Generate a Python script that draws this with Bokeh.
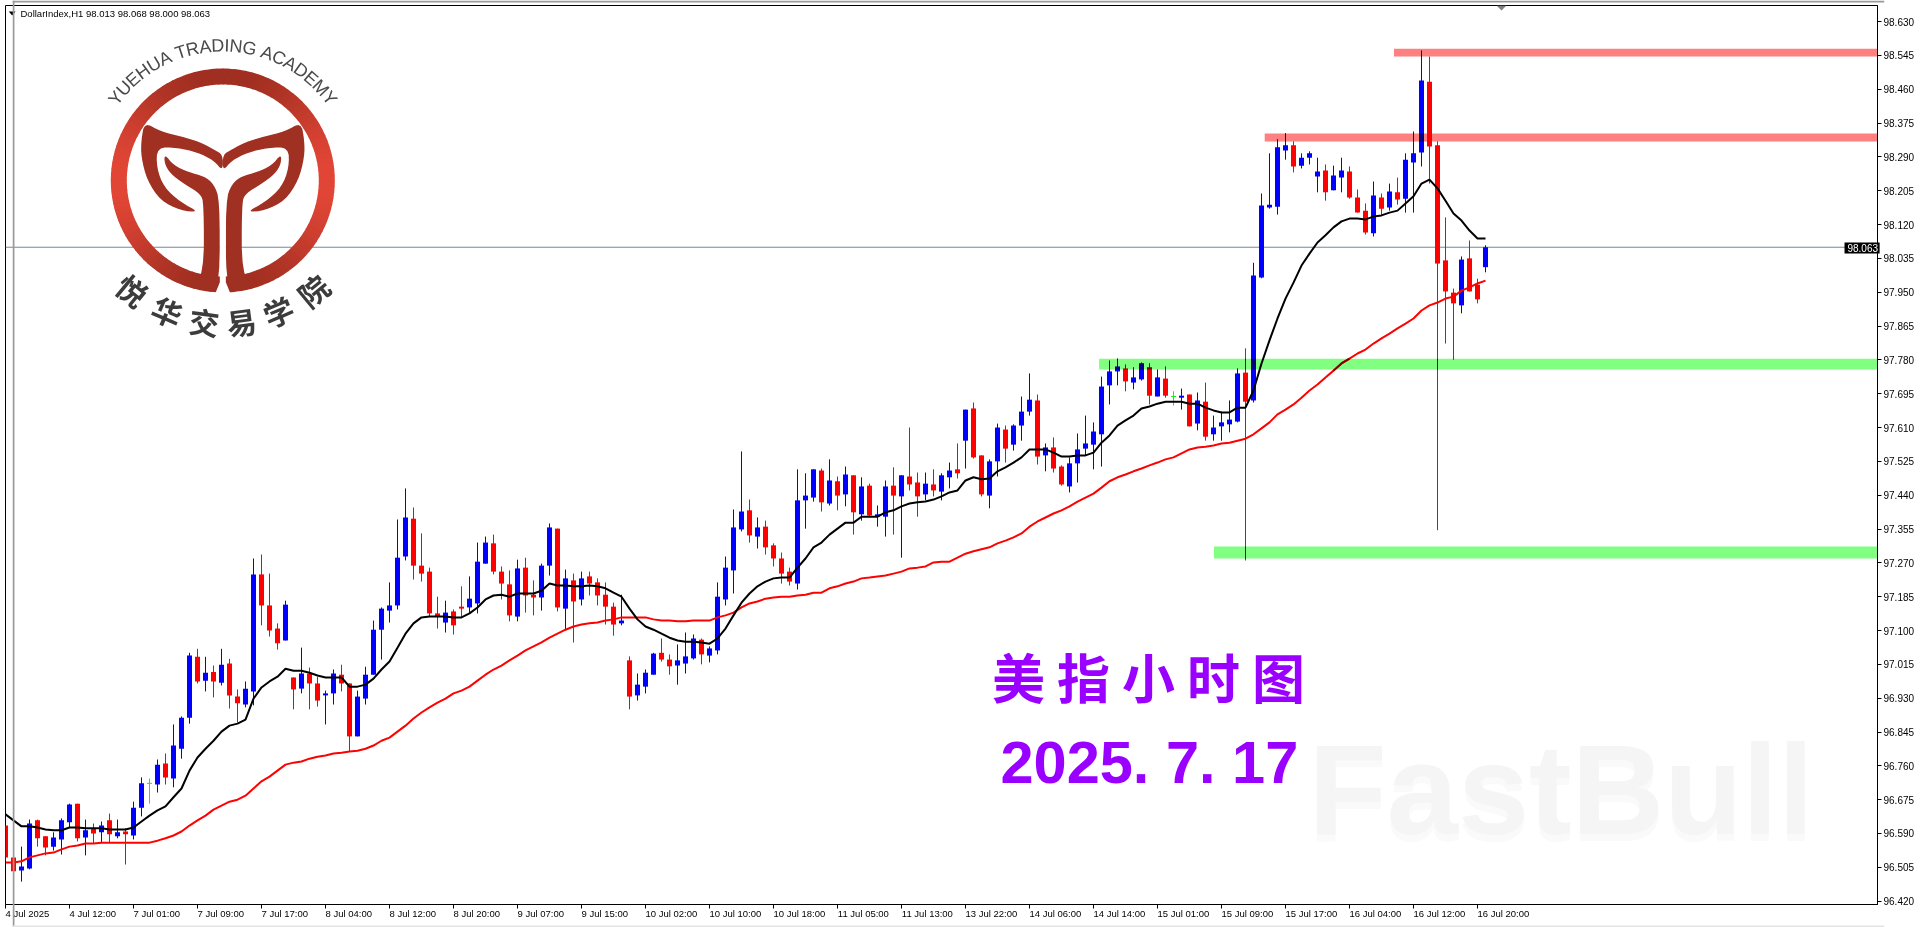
import numpy as np
from bokeh.core.properties import value
from bokeh.embed import file_html
from bokeh.layouts import column
from bokeh.models import FixedTicker, LinearAxis, NumeralTickFormatter, Range1d, Span
from bokeh.plotting import figure
from bokeh.resources import INLINE

#### data ####

opens = [96.610, 96.530, 96.497, 96.502, 96.623, 96.583, 96.557, 96.575, 96.618, 96.665,
         96.580, 96.603, 96.593, 96.623, 96.583, 96.595, 96.585, 96.655, 96.716, 96.713,
         96.766, 96.728, 96.803, 96.881, 97.034, 96.974, 96.996, 96.969, 97.017, 96.934,
         96.914, 96.947, 97.241, 97.163, 97.105, 97.075, 96.982, 96.954, 96.992, 96.967,
         96.937, 96.942, 96.989, 96.967, 96.834, 96.929, 96.989, 97.102, 97.150, 97.163,
         97.286, 97.381, 97.263, 97.248, 97.143, 97.120, 97.148, 97.160, 97.158, 97.168,
         97.268, 97.319, 97.248, 97.216, 97.135, 97.258, 97.190, 97.183, 97.263, 97.356,
         97.155, 97.226, 97.178, 97.236, 97.221, 97.190, 97.160, 97.118, 97.025, 96.937,
         96.959, 96.989, 97.044, 97.027, 97.012, 97.017, 97.030, 97.077, 97.037, 97.050,
         97.178, 97.251, 97.354, 97.402, 97.336, 97.361, 97.314, 97.281, 97.248, 97.218,
         97.427, 97.434, 97.502, 97.419, 97.475, 97.442, 97.490, 97.392, 97.464, 97.386,
         97.386, 97.464, 97.437, 97.487, 97.472, 97.442, 97.467, 97.449, 97.485, 97.505,
         97.577, 97.658, 97.540, 97.439, 97.525, 97.605, 97.567, 97.615, 97.650, 97.678,
         97.540, 97.560, 97.512, 97.462, 97.520, 97.557, 97.567, 97.593, 97.716, 97.751,
         97.758, 97.723, 97.731, 97.761, 97.688, 97.733, 97.688, 97.685, 97.693, 97.620,
         97.675, 97.593, 97.613, 97.618, 97.625, 97.748, 97.678, 97.987, 98.163, 98.165,
         98.306, 98.319, 98.268, 98.288, 98.241, 98.256, 98.206, 98.238, 98.253, 98.188,
         98.155, 98.098, 98.188, 98.163, 98.201, 98.185, 98.276, 98.301, 98.479, 98.319,
         98.030, 97.949, 97.917, 98.035, 97.969, 98.013]

closes = [96.530, 96.495, 96.507, 96.615, 96.578, 96.555, 96.580, 96.623, 96.663, 96.578,
          96.598, 96.590, 96.610, 96.588, 96.593, 96.588, 96.655, 96.716, 96.716, 96.763,
          96.731, 96.811, 96.881, 97.037, 96.972, 96.994, 96.972, 97.014, 96.937, 96.917,
          96.954, 97.241, 97.163, 97.100, 97.068, 97.165, 96.952, 96.992, 96.967, 96.924,
          96.942, 96.992, 96.967, 96.834, 96.934, 96.989, 97.102, 97.155, 97.163, 97.283,
          97.384, 97.263, 97.243, 97.143, 97.135, 97.145, 97.113, 97.155, 97.180, 97.273,
          97.321, 97.248, 97.218, 97.138, 97.256, 97.188, 97.183, 97.263, 97.359, 97.158,
          97.231, 97.173, 97.231, 97.218, 97.188, 97.160, 97.115, 97.125, 96.934, 96.964,
          96.994, 97.042, 97.027, 97.010, 97.025, 97.035, 97.080, 97.040, 97.055, 97.185,
          97.258, 97.359, 97.399, 97.339, 97.359, 97.309, 97.281, 97.243, 97.223, 97.427,
          97.439, 97.505, 97.422, 97.477, 97.439, 97.492, 97.397, 97.462, 97.389, 97.392,
          97.462, 97.439, 97.490, 97.467, 97.437, 97.469, 97.452, 97.490, 97.502, 97.495,
          97.655, 97.535, 97.442, 97.525, 97.610, 97.557, 97.615, 97.650, 97.680, 97.537,
          97.560, 97.507, 97.467, 97.520, 97.555, 97.570, 97.600, 97.713, 97.751, 97.763,
          97.726, 97.736, 97.771, 97.690, 97.736, 97.690, 97.688, 97.690, 97.613, 97.678,
          97.587, 97.610, 97.623, 97.630, 97.746, 97.675, 97.992, 98.168, 98.170, 98.314,
          98.319, 98.266, 98.288, 98.299, 98.253, 98.201, 98.243, 98.256, 98.188, 98.150,
          98.100, 98.193, 98.160, 98.203, 98.183, 98.283, 98.299, 98.482, 98.316, 98.022,
          97.952, 97.922, 98.032, 97.952, 97.932, 98.063]

highs = [96.610, 96.530, 96.557, 96.625, 96.625, 96.583, 96.593, 96.628, 96.665, 96.665,
         96.625, 96.615, 96.620, 96.640, 96.625, 96.603, 96.670, 96.731, 96.728, 96.776,
         96.791, 96.864, 96.884, 97.044, 97.054, 97.034, 97.012, 97.054, 97.029, 96.952,
         96.972, 97.281, 97.291, 97.243, 97.118, 97.175, 96.982, 97.057, 97.007, 96.984,
         96.949, 97.002, 97.014, 96.967, 96.949, 97.009, 97.125, 97.158, 97.221, 97.379,
         97.457, 97.409, 97.344, 97.258, 97.185, 97.175, 97.153, 97.211, 97.236, 97.321,
         97.336, 97.341, 97.261, 97.251, 97.278, 97.283, 97.226, 97.268, 97.369, 97.356,
         97.253, 97.243, 97.248, 97.248, 97.231, 97.221, 97.170, 97.190, 97.035, 96.992,
         97.002, 97.044, 97.080, 97.040, 97.065, 97.095, 97.090, 97.080, 97.060, 97.221,
         97.286, 97.404, 97.550, 97.429, 97.384, 97.376, 97.319, 97.296, 97.258, 97.505,
         97.495, 97.505, 97.507, 97.530, 97.487, 97.512, 97.490, 97.485, 97.469, 97.414,
         97.477, 97.510, 97.490, 97.610, 97.497, 97.497, 97.505, 97.495, 97.522, 97.570,
         97.655, 97.673, 97.540, 97.530, 97.620, 97.615, 97.618, 97.688, 97.746, 97.693,
         97.570, 97.585, 97.515, 97.535, 97.595, 97.640, 97.623, 97.738, 97.778, 97.783,
         97.768, 97.761, 97.773, 97.771, 97.756, 97.763, 97.701, 97.708, 97.693, 97.698,
         97.723, 97.640, 97.650, 97.678, 97.758, 97.809, 98.024, 98.198, 98.299, 98.334,
         98.349, 98.329, 98.299, 98.304, 98.288, 98.271, 98.268, 98.288, 98.266, 98.208,
         98.173, 98.228, 98.198, 98.223, 98.238, 98.299, 98.354, 98.557, 98.542, 98.329,
         98.138, 97.959, 98.040, 98.080, 97.984, 98.068]

lows = [96.522, 96.485, 96.469, 96.500, 96.557, 96.535, 96.547, 96.537, 96.605, 96.570,
        96.535, 96.565, 96.567, 96.567, 96.578, 96.512, 96.575, 96.633, 96.665, 96.693,
        96.713, 96.706, 96.778, 96.866, 96.967, 96.947, 96.932, 96.962, 96.904, 96.869,
        96.907, 96.912, 97.113, 97.085, 97.052, 97.075, 96.902, 96.942, 96.902, 96.909,
        96.864, 96.914, 96.947, 96.796, 96.834, 96.914, 96.989, 97.027, 97.120, 97.153,
        97.276, 97.228, 97.223, 97.135, 97.105, 97.095, 97.090, 97.133, 97.145, 97.143,
        97.268, 97.241, 97.178, 97.123, 97.123, 97.145, 97.138, 97.150, 97.238, 97.148,
        97.100, 97.070, 97.163, 97.188, 97.163, 97.115, 97.087, 97.113, 96.902, 96.924,
        96.942, 96.989, 97.022, 96.989, 96.964, 96.992, 97.027, 97.015, 97.020, 97.040,
        97.163, 97.193, 97.349, 97.321, 97.306, 97.291, 97.261, 97.218, 97.213, 97.203,
        97.356, 97.424, 97.399, 97.414, 97.402, 97.412, 97.341, 97.376, 97.386, 97.361,
        97.336, 97.341, 97.283, 97.452, 97.386, 97.427, 97.437, 97.427, 97.457, 97.482,
        97.507, 97.532, 97.437, 97.407, 97.487, 97.522, 97.552, 97.577, 97.640, 97.517,
        97.500, 97.497, 97.464, 97.447, 97.472, 97.540, 97.505, 97.512, 97.668, 97.716,
        97.701, 97.706, 97.728, 97.668, 97.688, 97.685, 97.665, 97.655, 97.613, 97.603,
        97.577, 97.577, 97.577, 97.598, 97.623, 97.276, 97.673, 97.985, 98.160, 98.145,
        98.283, 98.251, 98.261, 98.271, 98.201, 98.180, 98.206, 98.201, 98.185, 98.150,
        98.095, 98.090, 98.143, 98.155, 98.170, 98.150, 98.150, 98.266, 98.223, 97.352,
        97.821, 97.781, 97.897, 97.952, 97.922, 98.000]

ma_black = [96.638, 96.623, 96.608, 96.608, 96.605, 96.600, 96.598, 96.598, 96.605, 96.605,
            96.603, 96.603, 96.603, 96.600, 96.600, 96.600, 96.605, 96.620, 96.635, 96.648,
            96.658, 96.681, 96.703, 96.748, 96.781, 96.803, 96.823, 96.846, 96.861, 96.866,
            96.876, 96.929, 96.957, 96.972, 96.984, 97.004, 96.999, 96.999, 96.994, 96.987,
            96.982, 96.982, 96.982, 96.959, 96.959, 96.964, 96.979, 97.002, 97.022, 97.057,
            97.092, 97.118, 97.133, 97.135, 97.135, 97.135, 97.133, 97.133, 97.143, 97.158,
            97.178, 97.188, 97.190, 97.185, 97.193, 97.193, 97.193, 97.200, 97.218, 97.213,
            97.213, 97.211, 97.211, 97.213, 97.211, 97.206, 97.195, 97.185, 97.155, 97.128,
            97.110, 97.102, 97.092, 97.082, 97.075, 97.072, 97.072, 97.070, 97.067, 97.080,
            97.105, 97.138, 97.170, 97.193, 97.211, 97.223, 97.231, 97.233, 97.233, 97.258,
            97.281, 97.309, 97.321, 97.341, 97.356, 97.371, 97.371, 97.386, 97.386, 97.386,
            97.397, 97.402, 97.412, 97.419, 97.422, 97.424, 97.429, 97.437, 97.447, 97.452,
            97.477, 97.485, 97.480, 97.482, 97.500, 97.510, 97.522, 97.535, 97.555, 97.555,
            97.555, 97.547, 97.537, 97.537, 97.540, 97.540, 97.547, 97.572, 97.590, 97.615,
            97.628, 97.640, 97.658, 97.663, 97.670, 97.675, 97.675, 97.675, 97.670, 97.670,
            97.660, 97.653, 97.648, 97.648, 97.660, 97.660, 97.703, 97.771, 97.829, 97.884,
            97.934, 97.974, 98.017, 98.047, 98.075, 98.093, 98.113, 98.128, 98.135, 98.135,
            98.133, 98.140, 98.143, 98.150, 98.155, 98.173, 98.191, 98.223, 98.233, 98.211,
            98.180, 98.148, 98.130, 98.105, 98.085, 98.085]

ma_red = [96.517, 96.517, 96.520, 96.530, 96.535, 96.540, 96.542, 96.550, 96.557, 96.560,
          96.565, 96.565, 96.567, 96.567, 96.567, 96.567, 96.567, 96.567, 96.567, 96.572,
          96.578, 96.585, 96.595, 96.610, 96.623, 96.635, 96.650, 96.660, 96.670, 96.675,
          96.685, 96.703, 96.721, 96.733, 96.748, 96.763, 96.768, 96.771, 96.778, 96.783,
          96.786, 96.791, 96.793, 96.796, 96.798, 96.803, 96.811, 96.823, 96.831, 96.846,
          96.861, 96.879, 96.894, 96.907, 96.919, 96.929, 96.942, 96.949, 96.959, 96.974,
          96.989, 97.002, 97.012, 97.025, 97.037, 97.050, 97.060, 97.070, 97.082, 97.092,
          97.102, 97.110, 97.115, 97.118, 97.120, 97.125, 97.128, 97.133, 97.133, 97.133,
          97.133, 97.128, 97.125, 97.125, 97.123, 97.123, 97.125, 97.125, 97.125, 97.133,
          97.138, 97.145, 97.158, 97.168, 97.173, 97.180, 97.183, 97.185, 97.185, 97.188,
          97.190, 97.195, 97.195, 97.206, 97.211, 97.218, 97.223, 97.231, 97.233, 97.236,
          97.238, 97.243, 97.248, 97.256, 97.258, 97.261, 97.271, 97.273, 97.273, 97.283,
          97.293, 97.299, 97.304, 97.309, 97.319, 97.326, 97.334, 97.344, 97.361, 97.374,
          97.384, 97.394, 97.402, 97.412, 97.424, 97.434, 97.444, 97.459, 97.475, 97.485,
          97.492, 97.500, 97.507, 97.515, 97.522, 97.530, 97.535, 97.545, 97.555, 97.560,
          97.562, 97.565, 97.570, 97.572, 97.577, 97.582, 97.593, 97.608, 97.623, 97.643,
          97.655, 97.668, 97.685, 97.703, 97.718, 97.736, 97.753, 97.771, 97.783, 97.796,
          97.806, 97.821, 97.834, 97.846, 97.859, 97.871, 97.884, 97.904, 97.917, 97.924,
          97.934, 97.939, 97.954, 97.962, 97.972, 97.979]

time_labels = ["4 Jul 2025", "4 Jul 12:00", "7 Jul 01:00", "7 Jul 09:00", "7 Jul 17:00", "8 Jul 04:00",
               "8 Jul 12:00", "8 Jul 20:00", "9 Jul 07:00", "9 Jul 15:00", "10 Jul 02:00", "10 Jul 10:00",
               "10 Jul 18:00", "11 Jul 05:00", "11 Jul 13:00", "13 Jul 22:00", "14 Jul 06:00", "14 Jul 14:00",
               "15 Jul 01:00", "15 Jul 09:00", "15 Jul 17:00", "16 Jul 04:00", "16 Jul 12:00", "16 Jul 20:00"]

price_ticks = [98.630, 98.545, 98.460, 98.375, 98.290, 98.205, 98.120, 98.035, 97.950, 97.865,
               97.780, 97.695, 97.610, 97.525, 97.440, 97.355, 97.270, 97.185, 97.100, 97.015,
               96.930, 96.845, 96.760, 96.675, 96.590, 96.505, 96.420]

last_price = 98.063

# zones: first bar, top price, bottom price
red_zones = [(173.56, 98.562, 98.542), (157.4, 98.349, 98.329)]
green_zones = [(136.7, 97.783, 97.756), (151.06, 97.311, 97.281)]

#### helpers ####

X0, X1 = 0.0, 234.0
Y0, Y1 = 96.4116, 98.6704


def sx(px):
    return X0 + (np.asarray(px, dtype=float) - 5) / 8


def sy(px):
    return Y1 - (np.asarray(px, dtype=float) - 5) * (Y1 - Y0) / 899


def smooth(points, rounds=2):
    # corner cutting for the traced logo outlines
    pts = np.asarray(points, dtype=float)
    for _ in range(rounds):
        nxt = np.roll(pts, -1, axis=0)
        pts = np.column_stack([0.75 * pts + 0.25 * nxt, 0.25 * pts + 0.75 * nxt]).reshape(-1, 2)
    return pts


def label_width(t):
    # Liberation Sans advance widths at 9.5px
    w = {" ": .278, "J": .5, "u": .556, "l": .222, ":": .278}
    return sum(w.get(ch, .556) for ch in t) * 9.5


p = figure(width=1920, height=927, output_backend="svg", toolbar_location=None,
           x_range=Range1d(X0, X1), y_range=Range1d(Y0, Y1), y_axis_location="right",
           min_border_left=5, min_border_right=43, min_border_top=5, min_border_bottom=23,
           styles={"position": "fixed", "left": "0px", "top": "0px"})

p.grid.visible = False
p.outline_line_color = "black"
p.outline_line_width = 1
p.background_fill_color = "white"

p.xaxis.ticker = FixedTicker(ticks=[8 * i for i in range(len(time_labels))])
p.xaxis.major_label_text_color = None
p.xaxis.major_label_text_font_size = "1px"
p.xaxis.major_label_standoff = 0
p.yaxis.ticker = FixedTicker(ticks=price_ticks)
p.yaxis.formatter = NumeralTickFormatter(format="0.000")
p.yaxis.major_label_text_font = "Liberation Sans"
p.yaxis.major_label_text_font_size = "10px"
p.yaxis.major_label_text_color = "black"
p.yaxis.major_label_standoff = 2
for ax in (p.xaxis, p.yaxis):
    ax.axis_line_color = "black"
    ax.major_tick_line_color = "black"
    ax.major_tick_in = 0
    ax.major_tick_out = 4
    ax.minor_tick_line_color = None

# the terminal starts each time label at its tick, the axis would centre it,
# so a second axis carries the labels half a label further right
label_ticks = [round(8 * i + label_width(t) / 2 / 8, 3) for i, t in enumerate(time_labels)]
time_axis = LinearAxis(ticker=FixedTicker(ticks=label_ticks),
                       major_label_overrides=dict(zip(label_ticks, time_labels)),
                       axis_line_color=None, major_tick_line_color=None, minor_tick_line_color=None,
                       major_tick_in=0, major_tick_out=0, major_label_standoff=-1,
                       major_label_text_font="Liberation Sans", major_label_text_font_size="9.5px",
                       major_label_text_color="black")
p.add_layout(time_axis, "below")

# FastBull watermark
for off, col in ((7, "#fafafa"), (0, "#f5f5f5")):
    p.text(x=[sx(1308)], y=[sy(789 + off)], text=["FastBull"], text_font=value("Liberation Sans"),
           text_font_style="bold", text_font_size="128px", text_color=col, text_baseline="middle")

# current price line
p.add_layout(Span(location=last_price, dimension="width", line_color="#778899", line_width=1, level="underlay"))

#### logo ####

cx, cy = 222.3, 180.0
ring_xs, ring_ys, ring_cols = [], [], []
for a in np.radians(np.arange(0, 360, 3)):
    b = a + np.radians(3.4)
    t = np.arange(0, 1.01, 0.5)
    ang = a + (b - a) * t
    px = np.r_[cx + 112 * np.cos(ang), cx + 96 * np.cos(ang[::-1])]
    py = np.r_[cy + 112 * np.sin(ang), cy + 96 * np.sin(ang[::-1])]
    w = abs(np.cos((a + b) / 2)) ** 2.5
    c = (int(160 + 66 * w), int(47 + 23 * w), int(33 + 21 * w))
    ring_xs.append(sx(px))
    ring_ys.append(sy(py))
    ring_cols.append("#%02x%02x%02x" % c)
p.patches(ring_xs, ring_ys, fill_color=ring_cols, line_color=None)

# shapes traced on a 3x zoom of the logo, mirrored around the middle
band = [(432, 365), (480, 393), (540, 407), (600, 425), (640, 447), (667, 462), (667, 512), (640, 480), (590, 455),
        (530, 442), (470, 440), (468, 500), (490, 560), (540, 605), (597, 635), (540, 630), (480, 600), (440, 540),
        (422, 470), (422, 420)]
stem = [(492, 460), (520, 495), (565, 515), (610, 527), (640, 550), (658, 600), (658, 845), (630, 873), (600, 868),
        (570, 860), (610, 822), (610, 610), (600, 580), (550, 550), (510, 520), (492, 490)]
gap = [(658, 640), (676, 640), (676, 845), (690, 880), (644, 880), (658, 845)]
shape_xs, shape_ys = [], []
for shape in (band, stem):
    pts = smooth(shape) / 3
    shape_xs += [sx(pts[:, 0]), sx(2 * cx - pts[:, 0])]
    shape_ys += [sy(pts[:, 1]), sy(pts[:, 1])]
p.patches(shape_xs, shape_ys, fill_color="#a03022", line_color=None)
p.patch(sx(np.array([q[0] for q in gap]) / 3), sy(np.array([q[1] for q in gap]) / 3), fill_color="white", line_color=None)

# lettering on the arcs
top_text = "YUEHUA TRADING ACADEMY"
widths = dict(zip("YUEHA TRDINGCM", [.667, .722, .667, .722, .667, .278, .611, .722, .722, .278, .722, .778, .722, .833]))
adv = np.array([widths[c] for c in top_text])
mid = (np.cumsum(adv) - adv / 2) / adv.sum() * np.radians(110) - np.radians(55)
p.text(x=sx(cx + 135 * np.sin(mid)), y=sy(cy - 135 * np.cos(mid)), text=list(top_text), angle=-mid,
       text_font=value("Liberation Sans"), text_font_size="18px", text_color="#4a4a4a",
       text_align="center", text_baseline="middle")
low_text = "悦华交易学院"
low_ang = np.radians([-39.5, -23, -7.5, 7.5, 23, 39.5])
p.text(x=sx(cx + 142 * np.sin(low_ang)), y=sy(cy + 142 * np.cos(low_ang)), text=list(low_text), angle=low_ang,
       text_font=value("Noto Sans CJK SC"), text_font_style="bold", text_font_size="30px", text_color="#3c3c3c",
       text_align="center", text_baseline="middle")

#### chart objects ####

for start, top, bottom in red_zones:
    p.quad(left=[start], right=[X1], top=[top], bottom=[bottom], fill_color="#ff8080", line_color=None)
for start, top, bottom in green_zones:
    p.quad(left=[start], right=[X1], top=[top], bottom=[bottom], fill_color="#80ff80", line_color=None)

#### candles ####

o, h, l, c = map(np.array, (opens, highs, lows, closes))
bars = np.arange(len(o))
colors = np.where(c > o, "blue", np.where(c < o, "red", "lime"))
body_top, body_bot = np.maximum(o, c), np.minimum(o, c)

p.segment(bars, h, bars, l, line_color=colors.tolist(), line_width=1)
solid = c != o
p.vbar(bars[solid], width=0.625, top=body_top[solid], bottom=body_bot[solid],
       fill_color=colors[solid].tolist(), line_color=None)
doji = ~solid
p.segment(bars[doji] - 0.3125, c[doji], bars[doji] + 0.3125, c[doji], line_color=colors[doji].tolist(), line_width=1)

# marks under a zone come out darker on the terminal


def darken(zones, dark):
    for start, top, bottom in zones:
        for i in bars:
            if i < start or colors[i] not in dark:
                continue
            if min(h[i], top) > max(l[i], bottom):
                p.segment([i], [min(h[i], top)], [i], [max(l[i], bottom)], line_color=dark[colors[i]], line_width=1)
            if min(body_top[i], top) > max(body_bot[i], bottom):
                p.vbar([i], width=0.625, top=[min(body_top[i], top)], bottom=[max(body_bot[i], bottom)],
                       fill_color=dark[colors[i]], line_color=None)


darken(red_zones, {"blue": "#000080"})
darken(green_zones, {"blue": "#000080", "red": "#800000"})

#### moving averages ####

p.line(bars, ma_red, line_color="red", line_width=2)
p.line(bars, ma_black, line_color="black", line_width=2)
inside = [i for i in bars if 97.75 <= ma_red[i] <= 97.79]
p.line(inside, [ma_red[i] for i in inside], line_color="#800000", line_width=2)

#### texts ####

p.text(x=[sx(20)], y=[sy(12.5)], text=["DollarIndex,H1  98.013 98.068 98.000 98.063"], text_font=value("Liberation Sans"),
       text_font_size="9.5px", text_color="black", text_baseline="middle")
p.patch(sx([8.3, 15, 11.6]), sy([11, 11, 15]), fill_color="black", line_color=None)
p.patch(sx([1496, 1506, 1501]), sy([5, 5, 10]), fill_color="#808080", line_color=None)

p.text(x=[sx(1148)], y=[sy(675)], text=["美 指 小 时 图"], text_font=value("Noto Sans CJK SC"), text_font_style="bold",
       text_font_size="53px", text_color="#9900ff", text_align="center", text_baseline="middle")
p.text(x=[sx(1000)], y=[sy(761.5)], text=["2025. 7. 17"], text_font=value("Liberation Sans"), text_font_style="bold",
       text_font_size="59.5px", text_color="#9900ff", text_baseline="middle")

#### things outside the plot frame: price tag and window edge, on a see-through sheet in page pixels ####

sheet = figure(width=1920, height=927, output_backend="svg", toolbar_location=None,
               x_range=Range1d(0, 1920), y_range=Range1d(927, 0), x_axis_type=None, y_axis_type=None,
               min_border_left=0, min_border_right=0, min_border_top=0, min_border_bottom=0,
               outline_line_color=None, background_fill_color=None, border_fill_color=None,
               styles={"position": "fixed", "left": "7px", "top": "0px", "pointer-events": "none"})
sheet.grid.visible = False
sheet.quad(left=[0, 0, 0, 1879], right=[2, 1920, 1920, 1915], top=[0, 0, 925, 242], bottom=[927, 2, 927, 253],
           fill_color=["#9a9a9a", "#9a9a9a", "#e4e4e4", "black"], line_color=None)
sheet.text(x=[1882], y=[247.5], text=["%.3f" % last_price], text_color="white", text_font=value("Liberation Sans"),
           text_font_size="10px", text_baseline="middle")

open("out.html", "w").write(file_html(column(p, sheet), INLINE))
